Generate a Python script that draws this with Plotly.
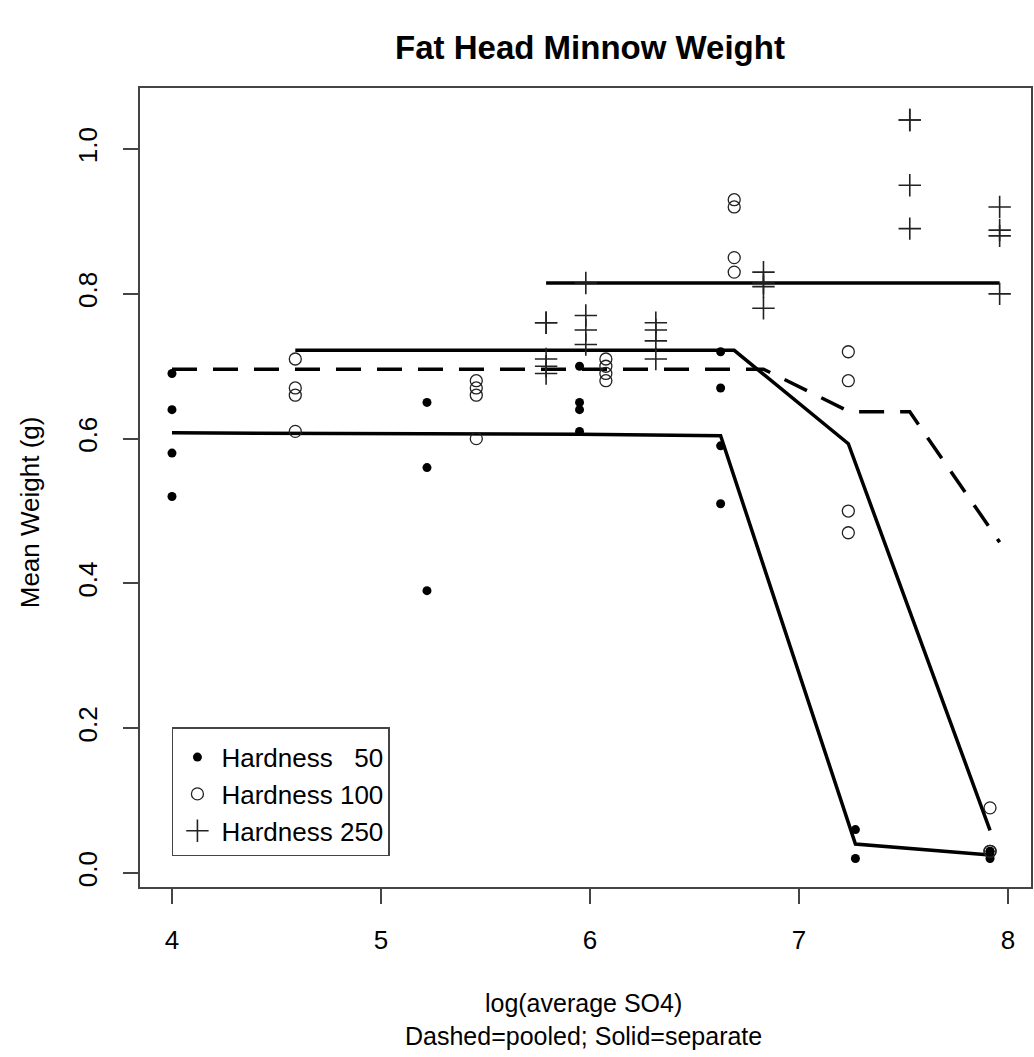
import plotly.graph_objects as go

# ---------------- data ----------------
h50_x = [4.0, 4.0, 4.0, 4.0, 5.22, 5.22, 5.22, 5.95, 5.95, 5.95, 5.95,
         6.625, 6.625, 6.625, 6.625, 7.27, 7.27, 7.914, 7.914, 7.914, 7.914]
h50_y = [0.69, 0.64, 0.58, 0.52, 0.65, 0.56, 0.39, 0.70, 0.65, 0.64, 0.61,
         0.72, 0.67, 0.59, 0.51, 0.06, 0.02, 0.03, 0.02, 0.025, 0.03]

h100_x = [4.59, 4.59, 4.59, 4.59, 5.456, 5.456, 5.456, 5.456,
          6.076, 6.076, 6.076, 6.076, 6.69, 6.69, 6.69, 6.69,
          7.236, 7.236, 7.236, 7.236, 7.914, 7.914, 7.914]
h100_y = [0.71, 0.67, 0.66, 0.61, 0.68, 0.67, 0.66, 0.60,
          0.71, 0.70, 0.69, 0.68, 0.93, 0.92, 0.85, 0.83,
          0.72, 0.68, 0.50, 0.47, 0.09, 0.03, 0.03]

h250_x = [5.79, 5.79, 5.79, 5.79, 5.79, 5.98, 5.98, 5.98, 5.98,
          6.315, 6.315, 6.315, 6.315, 6.83, 6.83, 6.83, 6.83,
          7.53, 7.53, 7.53, 7.53, 7.96, 7.96, 7.96, 7.96]
h250_y = [0.76, 0.76, 0.71, 0.70, 0.69, 0.815, 0.77, 0.75, 0.73,
          0.76, 0.75, 0.735, 0.71, 0.83, 0.815, 0.81, 0.78,
          1.04, 1.04, 0.95, 0.89, 0.92, 0.888, 0.88, 0.80]

# fitted values: separate fits (solid)
sep50_x = [4.0, 5.22, 5.95, 6.625, 7.27, 7.914]
sep50_y = [0.608, 0.607, 0.606, 0.604, 0.040, 0.025]
sep100_x = [4.59, 5.456, 6.076, 6.69, 7.236, 7.914]
sep100_y = [0.722, 0.722, 0.722, 0.722, 0.593, 0.059]
sep250_x = [5.79, 5.98, 6.315, 6.83, 7.53, 7.96]
sep250_y = [0.815, 0.815, 0.815, 0.815, 0.815, 0.815]

# pooled fit (dashed)
pool_x = [4.0, 4.59, 5.22, 5.456, 5.79, 5.95, 5.98, 6.076, 6.315, 6.625,
          6.69, 6.83, 7.236, 7.27, 7.53, 7.914, 7.96]
pool_y = [0.696, 0.696, 0.696, 0.696, 0.696, 0.696, 0.696, 0.696, 0.696, 0.696,
          0.696, 0.696, 0.638, 0.637, 0.637, 0.476, 0.457]

legend_labels = ["Hardness\u00a0\u00a0\u00a050", "Hardness 100", "Hardness 250"]
x_ticks = [4, 5, 6, 7, 8]
y_ticks = [0.0, 0.2, 0.4, 0.6, 0.8, 1.0]
y_ticktext = ["0.0", "0.2", "0.4", "0.6", "0.8", "1.0"]
title_text = "Fat Head Minnow Weight"
xlab_lines = ["log(average SO4)", "Dashed=pooled; Solid=separate"]
ylab_text = "Mean Weight (g)"

FONT = "Liberation Sans, Arial, Helvetica, sans-serif"
FS = 26

# plot-area geometry (pixels) used to place the margin texts
PL, PT, PW, PH = 140, 88, 893, 799

fig = go.Figure()

# fitted lines
for xs, ys in [(sep50_x, sep50_y), (sep100_x, sep100_y), (sep250_x, sep250_y)]:
    fig.add_trace(go.Scatter(x=xs, y=ys, mode="lines", showlegend=False,
                             line=dict(color="black", width=3.5), hoverinfo="skip"))
fig.add_trace(go.Scatter(x=pool_x, y=pool_y, mode="lines", showlegend=False,
                         line=dict(color="black", width=3.5, dash="25px,16px"),
                         hoverinfo="skip"))

# points
fig.add_trace(go.Scatter(x=h50_x, y=h50_y, mode="markers", name=legend_labels[0],
                         marker=dict(symbol="circle", size=9, color="black")))
fig.add_trace(go.Scatter(x=h100_x, y=h100_y, mode="markers", name=legend_labels[1],
                         marker=dict(symbol="circle-open", size=12, color="#222",
                                     line=dict(width=1.3, color="#222"))))
fig.add_trace(go.Scatter(x=h250_x, y=h250_y, mode="markers", name=legend_labels[2],
                         marker=dict(symbol="cross-thin-open", size=16, color="#222",
                                     line=dict(width=1.6, color="#222"))))

axis_common = dict(showgrid=False, zeroline=False, showline=True, mirror=True,
                   linecolor="#444", linewidth=2, ticks="outside", ticklen=15,
                   tickwidth=1.5, tickcolor="#444",
                   tickfont=dict(family=FONT, size=FS, color="black"))


def py_to_paper(py):
    return (PT + PH - py) / PH


def px_to_paper(px):
    return (px - PL) / PW


annotations = [
    dict(text="<br>".join(xlab_lines), x=px_to_paper(584), y=py_to_paper(1019),
         xref="paper", yref="paper", xanchor="center", yanchor="middle",
         showarrow=False, font=dict(family=FONT, size=25, color="black")),
    dict(text=ylab_text, x=px_to_paper(30), y=py_to_paper(512),
         xref="paper", yref="paper", xanchor="center", yanchor="middle",
         textangle=-90, showarrow=False,
         font=dict(family=FONT, size=FS, color="black")),
]

fig.update_layout(
    width=1034, height=1057,
    margin=dict(l=PL, r=1034 - PL - PW, t=PT, b=1057 - PT - PH),
    paper_bgcolor="white", plot_bgcolor="white",
    font=dict(family=FONT, size=FS, color="black"),
    title=dict(text="<b>" + title_text + "</b>", x=590 / 1034, xanchor="center",
               y=1 - 47 / 1057, yanchor="middle", yref="container",
               font=dict(family=FONT, size=33, color="black")),
    xaxis=dict(range=[3.847, 8.11], tickvals=x_ticks, ticklabelstandoff=14,
               **axis_common),
    yaxis=dict(range=[-0.0193, 1.0843], tickvals=y_ticks, ticktext=y_ticktext,
               tickangle=-90, ticklabelstandoff=16,
               **axis_common),
    annotations=annotations,
    legend=dict(x=px_to_paper(172), y=py_to_paper(727), xanchor="left", yanchor="top",
                bordercolor="#444", borderwidth=1.5, bgcolor="white",
                font=dict(family=FONT, size=26, color="black"),
                title=dict(text="\u00a0", font=dict(size=4)),
                itemwidth=38),
    showlegend=True,
)

fig.write_html("out.html")
